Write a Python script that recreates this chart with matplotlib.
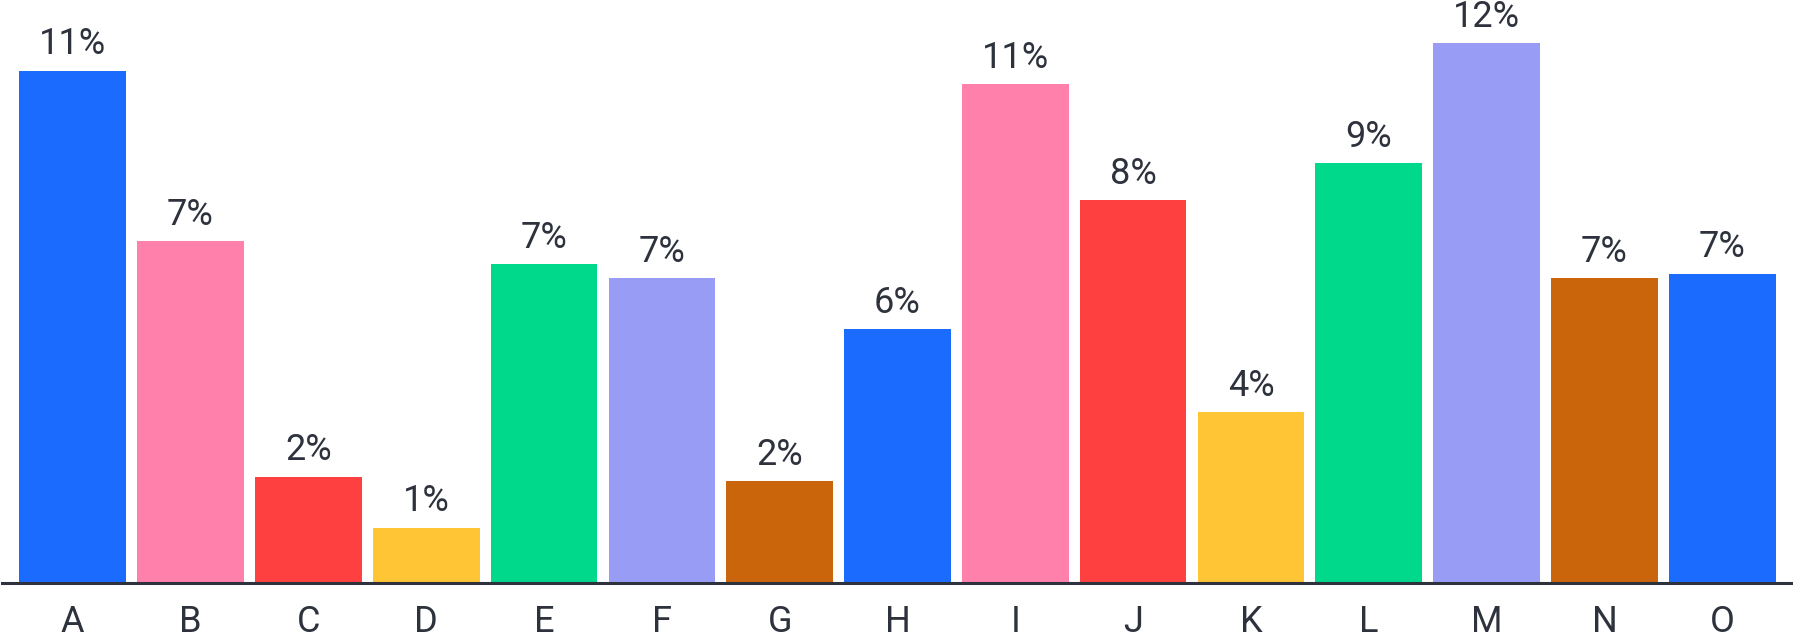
import matplotlib.pyplot as plt

# Categories and shares (%)
categorias = ["A", "B", "C", "D", "E", "F", "G", "H", "I", "J", "K", "L", "M", "N", "O"]
valores = [11.1, 7.4, 2.3, 1.2, 6.9, 6.6, 2.2, 5.5, 10.8, 8.3, 3.7, 9.1, 11.7, 6.6, 6.7]

paleta = ["#1c6bff", "#ff80aa", "#ff4040", "#ffc535", "#00d98b", "#989cf5", "#cb650b"]
cores = [paleta[i % len(paleta)] for i in range(len(categorias))]

plt.rcParams['font.family'] = ['Roboto', 'DejaVu Sans']
texto = "#2d323c"

fig = plt.figure(figsize=(17.93, 6.41), dpi=100)
ax = fig.add_axes([2 / 1793, 58 / 641, 1791 / 1793, 583 / 641])

x = range(len(categorias))
barras = ax.bar(x, valores, width=0.905, color=cores)

for b, v in zip(barras, valores):
    ax.annotate(f"{round(v)}%", (b.get_x() + b.get_width() / 2, v),
                xytext=(0, 6), textcoords="offset points",
                ha="center", va="bottom", fontsize=26, color=texto)

ax.set_xlim(-0.6, 14.6)
ax.set_ylim(0, 12.63)
ax.set_xticks(list(x))
ax.set_xticklabels(categorias, fontsize=26, color=texto)
ax.tick_params(axis="x", length=0, pad=15)
ax.set_yticks([])
for lado in ["top", "right", "left"]:
    ax.spines[lado].set_visible(False)
ax.spines["bottom"].set_color(texto)
ax.spines["bottom"].set_linewidth(2.2)
ax.set_zorder(1)

fig.savefig("out.png", dpi=100)
